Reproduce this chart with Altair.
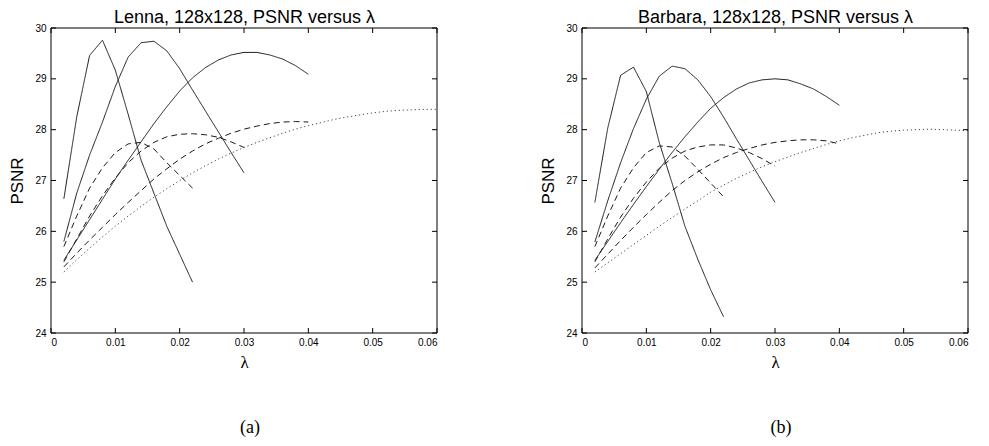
import altair as alt
import pandas as pd

# ---------------- data ----------------
lam_22 = [0.002, 0.004, 0.006, 0.008, 0.010, 0.012, 0.014, 0.016, 0.018, 0.020, 0.022]
lam_30 = [0.002, 0.004, 0.006, 0.008, 0.010, 0.012, 0.014, 0.016, 0.018, 0.020, 0.022,
          0.024, 0.026, 0.028, 0.030]
lam_40 = [0.002, 0.004, 0.006, 0.008, 0.010, 0.012, 0.014, 0.016, 0.018, 0.020, 0.022,
          0.024, 0.026, 0.028, 0.030, 0.032, 0.034, 0.036, 0.038, 0.040]
lam_60 = [0.002, 0.004, 0.006, 0.008, 0.010, 0.012, 0.014, 0.016, 0.018, 0.020, 0.022,
          0.024, 0.026, 0.028, 0.030, 0.032, 0.034, 0.036, 0.038, 0.040, 0.042, 0.044,
          0.046, 0.048, 0.050, 0.052, 0.054, 0.056, 0.058, 0.060]

# Lenna
lenna_solid_1 = [26.64, 28.25, 29.46, 29.76, 29.17, 28.30, 27.40, 26.75, 26.10, 25.55, 25.00]
lenna_solid_2 = [25.80, 26.75, 27.50, 28.15, 28.85, 29.43, 29.71, 29.74, 29.55, 29.20, 28.78,
                 28.37, 27.96, 27.55, 27.15]
lenna_solid_3 = [25.43, 25.83, 26.23, 26.63, 27.03, 27.40, 27.76, 28.12, 28.45, 28.76, 29.02,
                 29.22, 29.37, 29.47, 29.52, 29.52, 29.47, 29.39, 29.26, 29.09]
lenna_dash_1 = [25.70, 26.30, 26.85, 27.25, 27.55, 27.72, 27.75, 27.62, 27.35, 27.10, 26.85]
lenna_dash_2 = [25.40, 25.85, 26.30, 26.70, 27.05, 27.35, 27.58, 27.75, 27.86, 27.91, 27.92,
                27.90, 27.85, 27.76, 27.65]
lenna_dash_3 = [25.30, 25.57, 25.83, 26.08, 26.33, 26.57, 26.80, 27.03, 27.23, 27.42, 27.58,
                27.72, 27.83, 27.93, 28.01, 28.07, 28.12, 28.15, 28.16, 28.15]
lenna_dot = [25.20, 25.44, 25.67, 25.89, 26.10, 26.30, 26.49, 26.67, 26.84, 27.00, 27.15,
             27.29, 27.42, 27.54, 27.65, 27.75, 27.84, 27.93, 28.01, 28.08, 28.14, 28.20,
             28.25, 28.29, 28.33, 28.36, 28.38, 28.39, 28.40, 28.40]

# Barbara
barbara_solid_1 = [26.57, 28.03, 29.07, 29.23, 28.75, 27.75, 26.95, 26.10, 25.45, 24.85, 24.32]
barbara_solid_2 = [25.79, 26.60, 27.35, 28.02, 28.60, 29.05, 29.25, 29.20, 28.98, 28.65, 28.25,
                   27.82, 27.40, 26.98, 26.57]
barbara_solid_3 = [25.43, 25.80, 26.17, 26.53, 26.88, 27.22, 27.55, 27.86, 28.15, 28.42, 28.63,
                   28.80, 28.92, 28.98, 29.00, 28.98, 28.90, 28.80, 28.65, 28.48]
barbara_dash_1 = [25.70, 26.30, 26.85, 27.25, 27.55, 27.68, 27.66, 27.48, 27.22, 26.95, 26.68]
barbara_dash_2 = [25.40, 25.85, 26.28, 26.65, 26.97, 27.24, 27.44, 27.58, 27.66, 27.70, 27.70,
                  27.64, 27.55, 27.43, 27.28]
barbara_dash_3 = [25.28, 25.55, 25.82, 26.08, 26.33, 26.57, 26.80, 27.00, 27.17, 27.32, 27.45,
                  27.55, 27.63, 27.70, 27.75, 27.78, 27.80, 27.80, 27.78, 27.72]
barbara_dot = [25.20, 25.38, 25.56, 25.74, 25.92, 26.10, 26.27, 26.44, 26.60, 26.77, 26.91,
               27.04, 27.16, 27.27, 27.37, 27.46, 27.55, 27.63, 27.71, 27.78, 27.84, 27.89,
               27.94, 27.97, 27.99, 28.00, 28.01, 28.00, 27.99, 27.98]

x_ticks = [0, 0.01, 0.02, 0.03, 0.04, 0.05, 0.06]
y_ticks = [24, 25, 26, 27, 28, 29, 30]
x_domain = [0, 0.06]
y_domain = [24, 30]

styles = ["solid", "dashed", "dotted"]
style_colors = ["#1a1a1a", "#1a1a1a", "#444444"]
style_dashes = [[1, 0], [6, 4], [1.2, 2.8]]

W, H = 386, 305
TICK_PX = 5

# ---------------- tables ----------------
rows = []


def add(image, curve, style, lams, vals):
    for l, v in zip(lams, vals):
        rows.append({"image": image, "curve": curve, "style": style, "lam": l, "psnr": v})


add("Lenna", "s1", "solid", lam_22, lenna_solid_1)
add("Lenna", "s2", "solid", lam_30, lenna_solid_2)
add("Lenna", "s3", "solid", lam_40, lenna_solid_3)
add("Lenna", "d1", "dashed", lam_22, lenna_dash_1)
add("Lenna", "d2", "dashed", lam_30, lenna_dash_2)
add("Lenna", "d3", "dashed", lam_40, lenna_dash_3)
add("Lenna", "o1", "dotted", lam_60, lenna_dot)
add("Barbara", "s1", "solid", lam_22, barbara_solid_1)
add("Barbara", "s2", "solid", lam_30, barbara_solid_2)
add("Barbara", "s3", "solid", lam_40, barbara_solid_3)
add("Barbara", "d1", "dashed", lam_22, barbara_dash_1)
add("Barbara", "d2", "dashed", lam_30, barbara_dash_2)
add("Barbara", "d3", "dashed", lam_40, barbara_dash_3)
add("Barbara", "o1", "dotted", lam_60, barbara_dot)
df = pd.DataFrame(rows)

# axes box and inward tick marks, built from the axis domains and tick lists
x0, x1 = x_domain
y0, y1 = y_domain
dx = TICK_PX / W * (x1 - x0)
dy = TICK_PX / H * (y1 - y0)
box_rows = []
corners = [(x0, y0), (x1, y0), (x1, y1), (x0, y1), (x0, y0)]
for i, (bx, by) in enumerate(corners):
    box_rows.append({"seg": "box", "o": i, "bx": bx, "by": by})
for t in x_ticks:
    box_rows += [{"seg": f"b{t}", "o": 0, "bx": t, "by": y0}, {"seg": f"b{t}", "o": 1, "bx": t, "by": y0 + dy}]
    box_rows += [{"seg": f"t{t}", "o": 0, "bx": t, "by": y1}, {"seg": f"t{t}", "o": 1, "bx": t, "by": y1 - dy}]
for t in y_ticks:
    box_rows += [{"seg": f"l{t}", "o": 0, "bx": x0, "by": t}, {"seg": f"l{t}", "o": 1, "bx": x0 + dx, "by": t}]
    box_rows += [{"seg": f"r{t}", "o": 0, "bx": x1, "by": t}, {"seg": f"r{t}", "o": 1, "bx": x1 - dx, "by": t}]
box_df = pd.DataFrame(box_rows)


def xs():
    return alt.Scale(domain=x_domain, nice=False, zero=False)


def ys():
    return alt.Scale(domain=y_domain, nice=False, zero=False)


def panel(image, top_title, caption):
    base = alt.Chart(df).transform_filter(alt.datum.image == image)
    lines = base.mark_line(strokeWidth=1).encode(
        x=alt.X("lam:Q", scale=xs(),
                axis=alt.Axis(orient="bottom", values=x_ticks, format=".2~f", title="λ",
                              ticks=False, domain=False, grid=False,
                              labelPadding=4, labelFontSize=10,
                              titleFont="Liberation Serif", titleFontSize=17, titlePadding=7)),
        y=alt.Y("psnr:Q", scale=ys(),
                axis=alt.Axis(orient="left", values=y_ticks, format="d", title="PSNR",
                              ticks=False, domain=False, grid=False,
                              labelPadding=5, labelFontSize=10,
                              titleFont="Liberation Sans", titleFontSize=17, titlePadding=8)),
        detail="curve:N",
        color=alt.Color("style:N", scale=alt.Scale(domain=styles, range=style_colors), legend=None),
        strokeDash=alt.StrokeDash("style:N", scale=alt.Scale(domain=styles, range=style_dashes),
                                  legend=None),
    )
    frame = base.mark_line(opacity=0).encode(
        x=alt.X("lam:Q", scale=xs(),
                axis=alt.Axis(orient="top", values=x_ticks, labels=False, ticks=False,
                              domain=False, title=top_title, grid=False,
                              titleFont="Liberation Sans", titleFontSize=18, titlePadding=2)),
        y=alt.Y("psnr:Q", scale=ys(), axis=None),
        detail="curve:N",
    )
    box = alt.Chart(box_df).mark_line(color="#000000", strokeWidth=1).encode(
        x=alt.X("bx:Q", scale=xs(), axis=None),
        y=alt.Y("by:Q", scale=ys(), axis=None),
        detail="seg:N",
        order="o:Q",
    )
    return alt.layer(lines, frame, box).resolve_scale(
        x="independent", y="independent").properties(
        width=W, height=H,
        title=alt.TitleParams(caption, orient="bottom", font="Liberation Serif", fontSize=18,
                              fontWeight="normal", offset=49, dx=6, color="#000000"),
    )


left = panel("Lenna", "Lenna, 128x128, PSNR versus λ", "(a)")
right = panel("Barbara", "Barbara, 128x128, PSNR versus λ", "(b)")

chart = alt.hconcat(left, right, spacing=100).properties(padding=0).configure_axis(
    labelFont="Liberation Sans", labelColor="#000000",
    titleColor="#000000", titleFontWeight="normal",
).configure_view(strokeOpacity=0)

chart.save("out.html", embed_options={"renderer": "svg", "actions": False})
